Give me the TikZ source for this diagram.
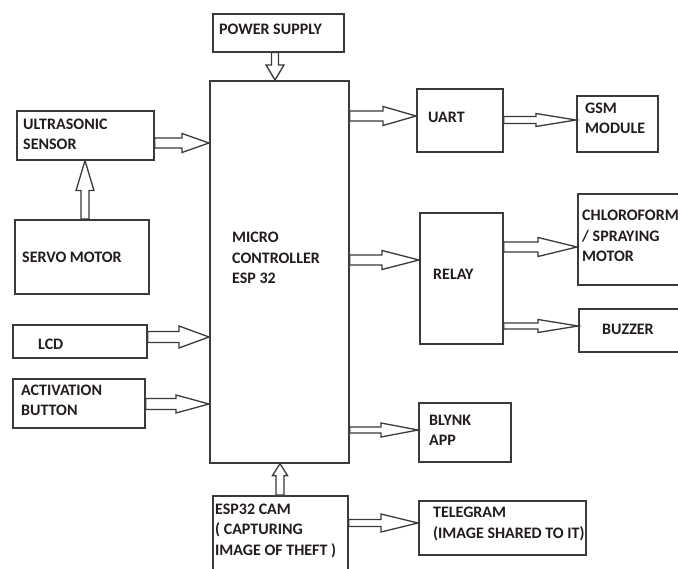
\documentclass[tikz,border=0pt]{standalone}
\usepackage{fontspec}
\setmainfont{Carlito}[BoldFont={Carlito Bold}]
\usetikzlibrary{calc}
\definecolor{boxc}{HTML}{3a3a3a}
\definecolor{txtc}{HTML}{221c1c}
\tikzset{
 box/.style={draw=boxc, line width=1.6pt, anchor=north west, inner sep=0pt},
 txt/.style={font=\bfseries\fontsize{16}{20.5}\selectfont, text=txtc, align=left, inner sep=0pt, anchor=base west},
 barr/.style={draw=boxc, line width=1.3pt, fill=white, line join=miter},
}
\newcommand\bx[8]{%
 \node[box, minimum width=#4pt, minimum height=#5pt] (#1) at (#2,#3) {};
 \node[txt] (#1-t) at ($(#1.north west)+(#6,#7)$) {#8};}
\newcommand\barrow[5]{% start, end, half shaft, half head, head length
 \coordinate (ba-s) at (#1); \coordinate (ba-e) at (#2);
 \coordinate (ba-h) at ($(ba-e)!#5!(ba-s)$);
 \draw[barr] ($(ba-s)!#3!90:(ba-e)$) -- ($(ba-h)!#3!-90:(ba-s)$) -- ($(ba-h)!#4!-90:(ba-s)$) -- (ba-e) -- ($(ba-h)!#4!90:(ba-s)$) -- ($(ba-h)!#3!90:(ba-s)$) -- ($(ba-s)!#3!-90:(ba-e)$) -- cycle;}
\begin{document}
\begin{tikzpicture}[x=1pt,y=-1pt]
\fill[white] (0,0) rectangle (678,569);
\useasboundingbox (0,0) rectangle (678,569);
% boxes (dy = baseline of the last text line)
\bx{power}{212}{13}{131}{38}{7}{22}{POWER SUPPLY}
\bx{mcu}{209}{80}{139}{382}{23}{204}{MICRO\\CONTROLLER\\ESP 32}
\bx{ultra}{16}{110}{137}{49}{7}{40}{ULTRASONIC\\SENSOR}
\bx{servo}{14}{219}{134}{74}{8}{44}{SERVO MOTOR}
\bx{lcd}{12}{324}{134}{33}{26}{26}{LCD}
\bx{act}{12}{378}{132}{49}{9}{38}{ACTIVATION\\BUTTON}
\bx{cam}{212}{495}{135}{95}{3}{60}{ESP32 CAM\\( CAPTURING\\IMAGE OF THEFT )}
\bx{tele}{418}{500}{167}{54}{15}{38}{TELEGRAM\\(IMAGE SHARED TO IT)}
\bx{blynk}{418}{402}{92}{59}{11}{44}{BLYNK\\APP}
\bx{uart}{416}{88}{86}{63}{12}{35}{UART}
\bx{gsm}{576}{95}{81}{56}{9}{39}{GSM\\MODULE}
\bx{relay}{419}{212}{83}{131}{14}{68}{RELAY}
\bx{chloro}{577}{193}{120}{91}{5}{69}{CHLOROFORM\\/ SPRAYING\\MOTOR}
\bx{buzzer}{578}{308}{120}{43}{24}{27}{BUZZER}
% arrows
\barrow{275,0 |- power.south}{275,0 |- mcu.north}{3.5pt}{9pt}{15pt}
\barrow{ultra.east |- 0,143}{mcu.west |- 0,143}{5pt}{9.5pt}{27pt}
\barrow{85,0 |- servo.north}{85,0 |- ultra.south}{4pt}{9pt}{30pt}
\barrow{lcd.east |- 0,337}{mcu.west |- 0,337}{5.5pt}{11pt}{30pt}
\barrow{act.east |- 0,404}{mcu.west |- 0,404}{5.5pt}{9pt}{33pt}
\barrow{280,0 |- cam.north}{280,0 |- mcu.south}{4pt}{7.5pt}{12pt}
\barrow{mcu.east |- 0,116}{uart.west |- 0,116}{5pt}{9.5pt}{33pt}
\barrow{uart.east |- 0,120}{gsm.west |- 0,120}{3.5pt}{6.5pt}{40pt}
\barrow{mcu.east |- 0,260}{relay.west |- 0,260}{5pt}{9.5pt}{37pt}
\barrow{relay.east |- 0,247}{chloro.west |- 0,247}{5pt}{9.5pt}{39pt}
\barrow{relay.east |- 0,326}{buzzer.west |- 0,326}{3pt}{6.5pt}{40pt}
\barrow{mcu.east |- 0,430}{blynk.west |- 0,430}{3pt}{7pt}{37pt}
\barrow{cam.east |- 0,523}{tele.west |- 0,523}{3.5pt}{9pt}{37pt}
\end{tikzpicture}
\end{document}
